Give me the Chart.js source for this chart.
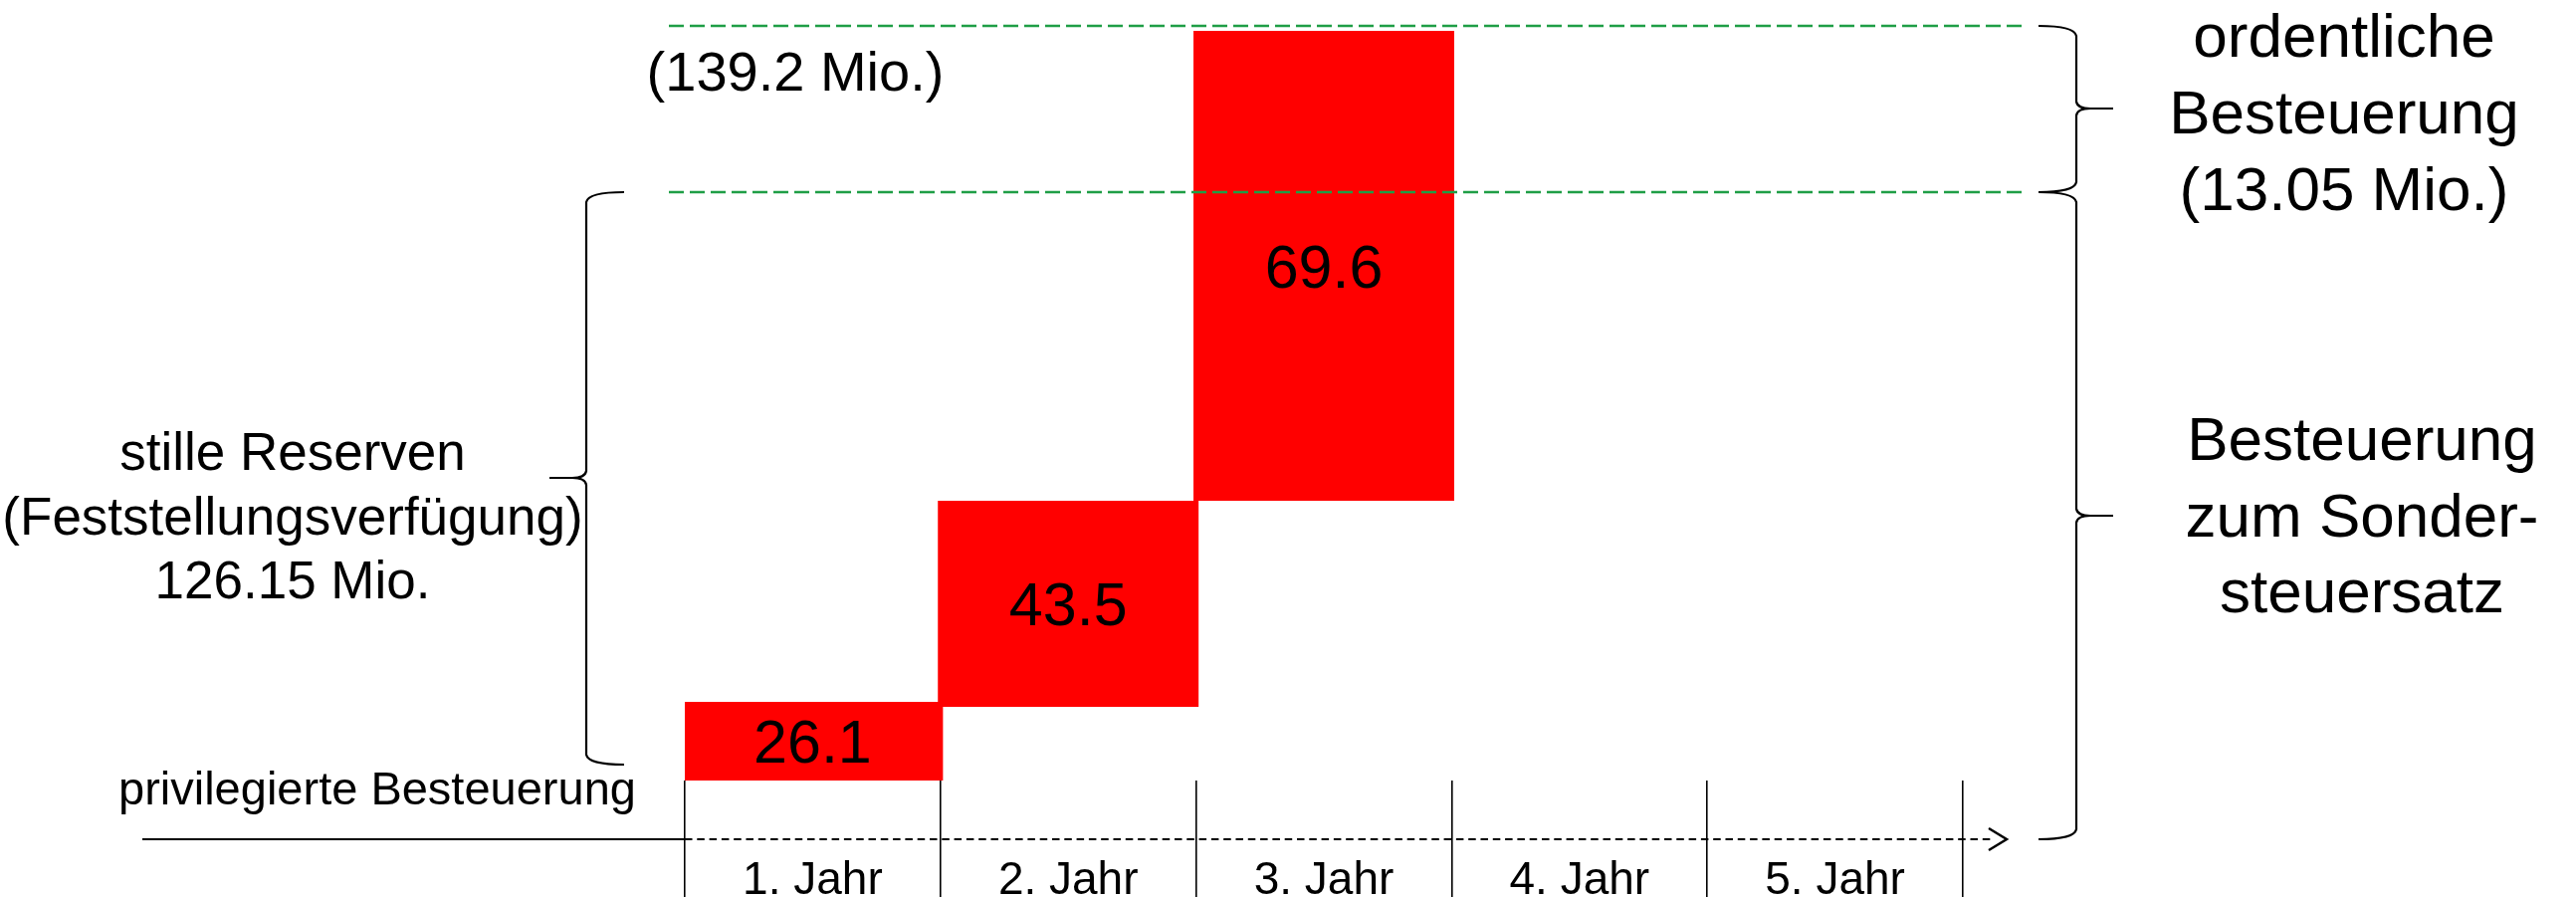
<!DOCTYPE html>
<html lang="de">
<head>
<meta charset="utf-8">
<title>Besteuerung stille Reserven</title>
<script src="https://cdn.jsdelivr.net/npm/chart.js@4.4.1/dist/chart.umd.min.js"></script>
<style>
  html, body { margin: 0; padding: 0; background: #ffffff; overflow: hidden; }
  #wrap { position: relative; width: 2588px; height: 901px; }
</style>
</head>
<body>
<div id="wrap"><canvas id="chart"></canvas></div>
<script>
const years = ["1. Jahr", "2. Jahr", "3. Jahr", "4. Jahr", "5. Jahr"];

// amounts written in the bars (Mio.)
const amounts = [26.1, 43.5, 69.6, null, null];

// the drawing is schematic, not to scale: lower / upper edge of each bar on its own axis
const barLow = [0, 13.6, 51.6, null, null];
const barHigh = [14.5, 51.6, 138.3, null, null];

// dashed guide lines on the same axis: total 139.2 Mio. and the 126.15 Mio. mark
const guideLevels = [139.2, 108.6];
const axisMax = 144;

const FONT = '"Liberation Sans", Arial, Helvetica, sans-serif';

const colors = {
  bar: "#ff0000",
  guide: "#1f9e46",
  ink: "#000000",
};

function drawBrace(ctx, x, top, bottom, tipY, dir) {
  const hook = 38;
  const tip = 37;
  const r = 10;

  ctx.beginPath();
  ctx.moveTo(x - dir * hook, top);
  ctx.quadraticCurveTo(x - dir * 2, top, x, top + r);
  ctx.lineTo(x, tipY - 7);
  ctx.quadraticCurveTo(x + dir * 1, tipY, x + dir * 14, tipY);
  ctx.lineTo(x + dir * tip, tipY);
  ctx.moveTo(x + dir * 14, tipY);
  ctx.quadraticCurveTo(x + dir * 1, tipY, x, tipY + 7);
  ctx.lineTo(x, bottom - r);
  ctx.quadraticCurveTo(x - dir * 2, bottom, x - dir * hook, bottom);
  ctx.stroke();
}

function drawLines(ctx, lines, x, firstBaseline, step, size) {
  ctx.font = `${size}px ${FONT}`;
  ctx.textAlign = "center";
  ctx.textBaseline = "alphabetic";
  lines.forEach((line, i) => {
    ctx.fillText(line, x, firstBaseline + i * step);
  });
}

const barLabelPlugin = {
  id: "barLabels",
  afterDatasetsDraw(chart) {
    const { ctx } = chart;
    const meta = chart.getDatasetMeta(0);
    const size = 61;

    ctx.save();
    ctx.fillStyle = colors.ink;
    ctx.font = `${size}px ${FONT}`;
    ctx.textAlign = "center";
    ctx.textBaseline = "alphabetic";
    meta.data.forEach((bar, i) => {
      if (amounts[i] === null) {
        return;
      }
      const mid = (bar.y + bar.base) / 2;
      ctx.fillText(amounts[i].toFixed(1), bar.x, mid + size * 0.358);
    });
    ctx.restore();
  },
};

const sketchPlugin = {
  id: "sketch",
  afterDraw(chart) {
    const { ctx, chartArea, scales } = chart;
    const yScale = scales.y;

    ctx.save();

    // green guide lines
    ctx.strokeStyle = colors.guide;
    ctx.lineWidth = 2.5;
    ctx.setLineDash([15, 6]);
    guideLevels.forEach((level) => {
      const y = Math.round(yScale.getPixelForValue(level));
      ctx.beginPath();
      ctx.moveTo(chartArea.left - 16, y);
      ctx.lineTo(chartArea.right + 62, y);
      ctx.stroke();
    });

    // time axis: solid before the first year, dashed afterwards, open arrow head
    const axisY = chartArea.bottom + 59;
    ctx.strokeStyle = colors.ink;
    ctx.lineWidth = 2;
    ctx.setLineDash([]);
    ctx.beginPath();
    ctx.moveTo(143, axisY);
    ctx.lineTo(chartArea.left, axisY);
    ctx.stroke();

    ctx.setLineDash([7.5, 4.8]);
    ctx.beginPath();
    ctx.moveTo(chartArea.left, axisY);
    ctx.lineTo(chartArea.right + 30, axisY);
    ctx.stroke();

    ctx.setLineDash([]);
    ctx.lineWidth = 2.5;
    ctx.beginPath();
    ctx.moveTo(chartArea.right + 26, axisY - 11);
    ctx.lineTo(chartArea.right + 44, axisY);
    ctx.lineTo(chartArea.right + 26, axisY + 11);
    ctx.stroke();

    // curly braces
    const topGuide = Math.round(yScale.getPixelForValue(guideLevels[0]));
    const lowGuide = Math.round(yScale.getPixelForValue(guideLevels[1]));
    ctx.lineWidth = 2.2;
    drawBrace(ctx, 589, lowGuide, 768, 480, -1);
    drawBrace(ctx, 2086, topGuide, lowGuide, 109, 1);
    drawBrace(ctx, 2086, lowGuide, axisY, 518, 1);

    // texts
    ctx.fillStyle = colors.ink;
    drawLines(ctx, ["(139.2 Mio.)"], 799, 91, 0, 56);
    drawLines(ctx, ["stille Reserven", "(Feststellungsverfügung)", "126.15 Mio."], 294, 472, 64.5, 53);
    drawLines(ctx, ["ordentliche", "Besteuerung", "(13.05 Mio.)"], 2355, 57, 77, 62);
    drawLines(ctx, ["Besteuerung", "zum Sonder-", "steuersatz"], 2373, 462, 76.5, 62);

    ctx.font = `47px ${FONT}`;
    ctx.textAlign = "left";
    ctx.fillText("privilegierte Besteuerung", 119, 808);

    ctx.restore();
  },
};

new Chart(document.getElementById("chart"), {
  type: "bar",
  plugins: [barLabelPlugin, sketchPlugin],
  data: {
    labels: years,
    datasets: [
      {
        data: barLow.map((low, i) => (low === null ? null : [low, barHigh[i]])),
        backgroundColor: colors.bar,
        borderWidth: 0,
        borderSkipped: false,
        barPercentage: 1.02,
        categoryPercentage: 1.0,
      },
    ],
  },
  options: {
    responsive: true,
    maintainAspectRatio: false,
    animation: false,
    layout: {
      padding: { left: 688, right: 616, top: 0, bottom: 0 },
    },
    scales: {
      x: {
        offset: true,
        border: { display: false },
        grid: {
          offset: true,
          drawOnChartArea: false,
          drawTicks: true,
          tickLength: 130,
          color: colors.ink,
          lineWidth: 1.6,
        },
        ticks: {
          color: colors.ink,
          font: { family: FONT, size: 46 },
          padding: -56,
          maxRotation: 0,
          autoSkip: false,
        },
        afterFit(scale) {
          scale.height = 117;
        },
      },
      y: {
        display: false,
        min: 0,
        max: axisMax,
      },
    },
    plugins: {
      legend: { display: false },
      tooltip: { enabled: false },
    },
  },
});
</script>
</body>
</html>
